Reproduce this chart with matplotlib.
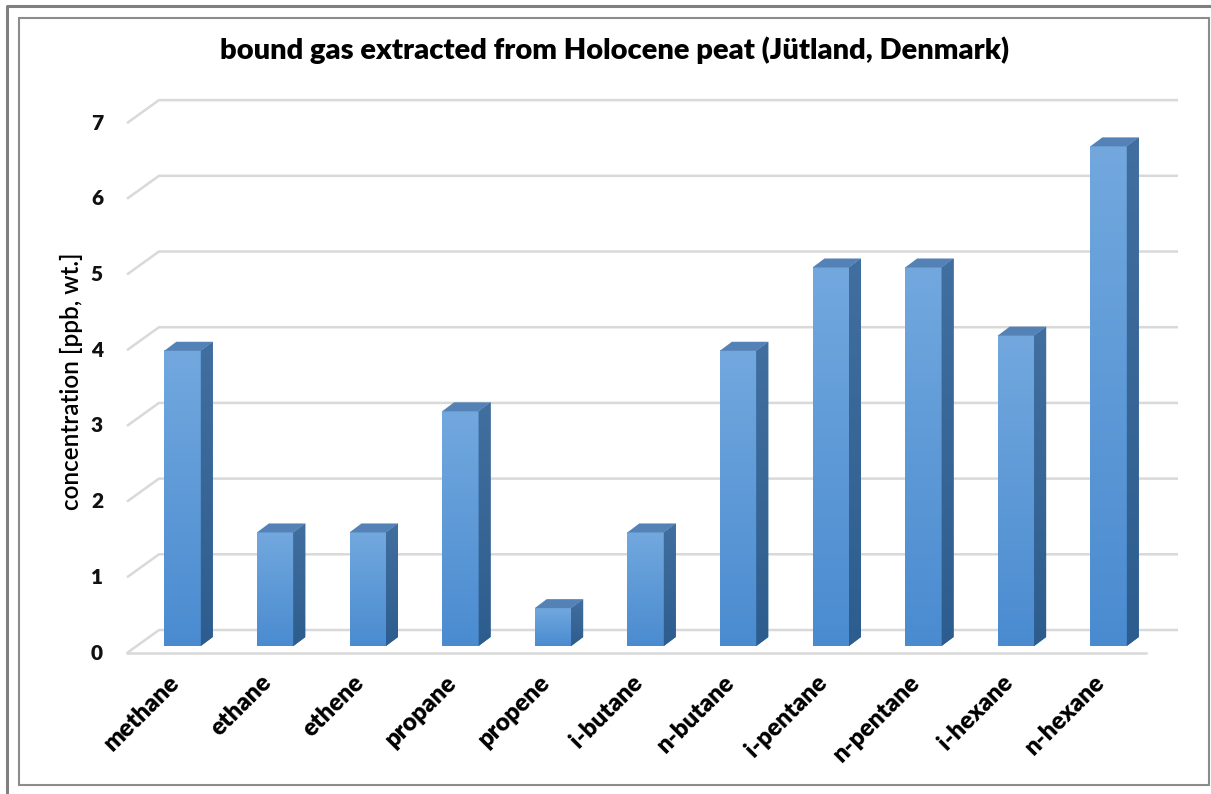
import matplotlib
matplotlib.use("Agg")
import matplotlib.pyplot as plt
import numpy as np
from matplotlib.patches import Polygon, Rectangle
from matplotlib.lines import Line2D
from matplotlib.colors import LinearSegmentedColormap
from matplotlib.transforms import offset_copy

plt.rcParams['font.family'] = ['Lato', 'DejaVu Sans']

gases = ['methane', 'ethane', 'ethene', 'propane', 'propene', 'i-butane',
         'n-butane', 'i-pentane', 'n-pentane', 'i-hexane', 'n-hexane']
conc = [3.9, 1.5, 1.5, 3.1, 0.5, 1.5, 3.9, 5.0, 5.0, 4.1, 6.6]
yticks = [0, 1, 2, 3, 4, 5, 6, 7]

W, H = 1211, 794
fig = plt.figure(figsize=(W / 100, H / 100), dpi=100)

# plot area (pixels) - front plane of the bars
xlo, xhi = -0.6, 10.75
ylo, yhi = -0.15, 7.3
ppu_y = 75.7
zero_px = 646
ax_bottom = H - (zero_px - ylo * ppu_y)
ax_height = (yhi - ylo) * ppu_y
ax = fig.add_axes([127 / W, ax_bottom / H, (1178 - 127) / W, ax_height / H])
ax.set_xlim(xlo, xhi)
ax.set_ylim(ylo, yhi)
ax.axis('off')
ppu_x = (1178 - 127) / (xhi - xlo)

# 3d depth offsets converted to data units
dx, dy = 12 / ppu_x, 9 / ppu_y          # bar depth
wx, wy = 32 / ppu_x, 16 / ppu_y         # back wall
fy = 7 / ppu_y                          # front edge of floor
bw = 36.5 / ppu_x

grid_c = '#d9d9d9'
# back wall gridlines with the diagonal at the left
for v in yticks:
    ax.plot([xlo, xlo + wx, xhi], [v - fy, v + wy, v + wy], color=grid_c,
            lw=1.8, zorder=1, clip_on=False, solid_capstyle='butt')
# floor front edge
ax.plot([xlo, 10.40], [-fy, -fy], color=grid_c, lw=1.8, zorder=1, clip_on=False)

# y tick labels
lbl_tr = offset_copy(ax.transData, fig, x=-24, y=0, units='dots')
for v in yticks:
    ax.text(xlo, v - fy, str(v), transform=lbl_tr, ha='right', va='center',
            fontsize=15, fontweight='heavy', color='#111111')

front_cmap = LinearSegmentedColormap.from_list('front', ['#4a8bd0', '#72a8de'])
side_cmap = LinearSegmentedColormap.from_list('side', ['#2d5d8e', '#416f9f'])
grad = np.linspace(0, 1, 256).reshape(-1, 1)

x = np.arange(len(gases))
for i, v in enumerate(conc):
    l, r = x[i] - bw / 2, x[i] + bw / 2
    # front face with vertical gradient
    ax.imshow(grad, cmap=front_cmap, origin='lower', aspect='auto',
              extent=[l, r, 0, v], zorder=3, interpolation='bilinear')
    # side face
    side = Polygon([(r, 0), (r + dx, dy), (r + dx, v + dy), (r, v)], closed=True,
                   facecolor='#36669a', edgecolor='none', zorder=3)
    ax.add_patch(side)
    im = ax.imshow(grad, cmap=side_cmap, origin='lower', aspect='auto',
                   extent=[r, r + dx, 0, v + dy], zorder=3, interpolation='bilinear')
    im.set_clip_path(side)
    # top face
    ax.add_patch(Polygon([(l, v), (r, v), (r + dx, v + dy), (l + dx, v + dy)],
                         closed=True, facecolor='#5482b6', edgecolor='none', zorder=4))

ax.set_xlim(xlo, xhi)
ax.set_ylim(ylo, yhi)

# category labels
cat_tr = offset_copy(ax.transData, fig, x=-7, y=-33, units='dots')
for i, g in enumerate(gases):
    ax.text(x[i], 0, g, transform=cat_tr, rotation=45, rotation_mode='anchor',
            ha='right', va='center', fontsize=17.5, fontweight='heavy', color='black')

fig.text(615 / W, 1 - 50 / H, 'bound gas extracted from Holocene peat (Jütland, Denmark)',
         ha='center', va='center', fontsize=21, fontweight='heavy', color='black')
fig.text(71 / W, 1 - 381 / H, 'concentration [ppb, wt.]', rotation=90,
         ha='center', va='center', fontsize=17.5, fontweight='semibold', color='black')

# chart frames
fig.add_artist(Rectangle((19 / W, 9 / H), (1209 - 19) / W, (776 - 9) / H,
                         transform=fig.transFigure, fill=False, edgecolor='#8c8c8c', lw=1.5))
fig.add_artist(Line2D([7 / W, 7 / W, 1], [0, 1 - 6 / H, 1 - 6 / H],
                      transform=fig.transFigure, color='#808080', lw=2.2))

fig.savefig('out.png', dpi=100)
